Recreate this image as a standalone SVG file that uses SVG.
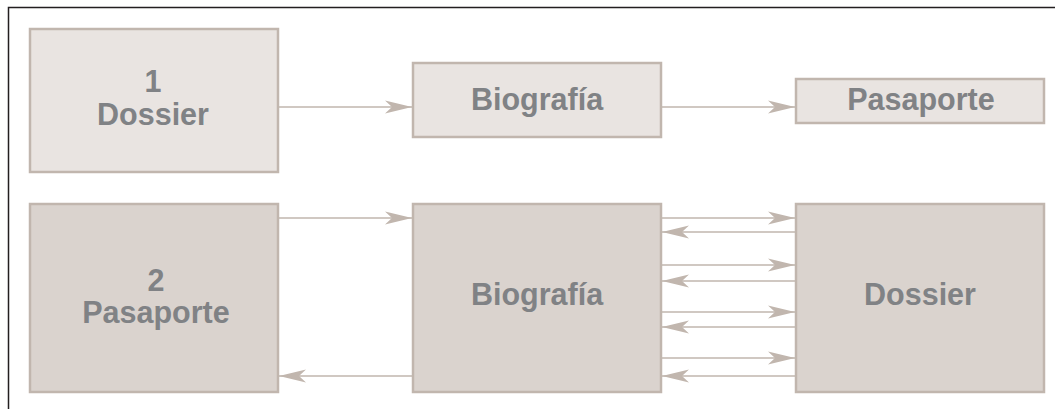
<svg xmlns="http://www.w3.org/2000/svg" width="1055" height="409" viewBox="0 0 1055 409">
<style>
.light{fill:#e9e4e1;stroke:#c1b6ae;stroke-width:2.5}
.dark{fill:#dad3ce;stroke:#c1b6ae;stroke-width:2.5}
.t{font-family:"Liberation Sans",Arial,sans-serif;font-weight:bold;font-size:30.5px;fill:#808285;text-anchor:middle}
.c{stroke:#c1b6ae;stroke-width:1.6;fill:none;marker-end:url(#ah)}
</style>
<defs>
<marker id="ah" markerUnits="userSpaceOnUse" markerWidth="30" markerHeight="16" viewBox="-27 -8 30 16" refX="0" refY="0" orient="auto">
<path d="M0,0 L-27,-6.5 L-20,0 L-27,6.5 Z" fill="#c1b6ae"/>
</marker>
</defs>
<rect width="1055" height="409" fill="#ffffff"/>
<path d="M8.5,409 V7.5 H1055" fill="none" stroke="#231f20" stroke-width="1.5"/>
<g id="n1">
<rect class="light" x="30" y="29" width="248" height="143"/>
<text class="t" x="153" y="92">1</text>
<text class="t" x="153" y="125">Dossier</text>
</g>
<g id="n2">
<rect class="light" x="413" y="63" width="248" height="74"/>
<text class="t" x="537" y="110">Biografía</text>
</g>
<g id="n3">
<rect class="light" x="796" y="79" width="248" height="44"/>
<text class="t" x="921" y="110">Pasaporte</text>
</g>
<g id="n4">
<rect class="dark" x="30" y="204" width="248" height="188"/>
<text class="t" x="156" y="291">2</text>
<text class="t" x="156" y="323">Pasaporte</text>
</g>
<g id="n5">
<rect class="dark" x="413" y="204" width="248" height="188"/>
<text class="t" x="537" y="305">Biografía</text>
</g>
<g id="n6">
<rect class="dark" x="796" y="204" width="248" height="188"/>
<text class="t" x="920" y="305">Dossier</text>
</g>
<g id="connectors">
<line class="c" x1="279" y1="107" x2="412" y2="107"/>
<line class="c" x1="662" y1="107" x2="795" y2="107"/>
<line class="c" x1="279" y1="218" x2="412" y2="218"/>
<line class="c" x1="412" y1="376" x2="279" y2="376"/>
<line class="c" x1="662" y1="218" x2="795" y2="218"/>
<line class="c" x1="795" y1="232" x2="662" y2="232"/>
<line class="c" x1="662" y1="265" x2="795" y2="265"/>
<line class="c" x1="795" y1="281" x2="662" y2="281"/>
<line class="c" x1="662" y1="312" x2="795" y2="312"/>
<line class="c" x1="795" y1="327" x2="662" y2="327"/>
<line class="c" x1="662" y1="358" x2="795" y2="358"/>
<line class="c" x1="795" y1="376" x2="662" y2="376"/>
</g>
</svg>
